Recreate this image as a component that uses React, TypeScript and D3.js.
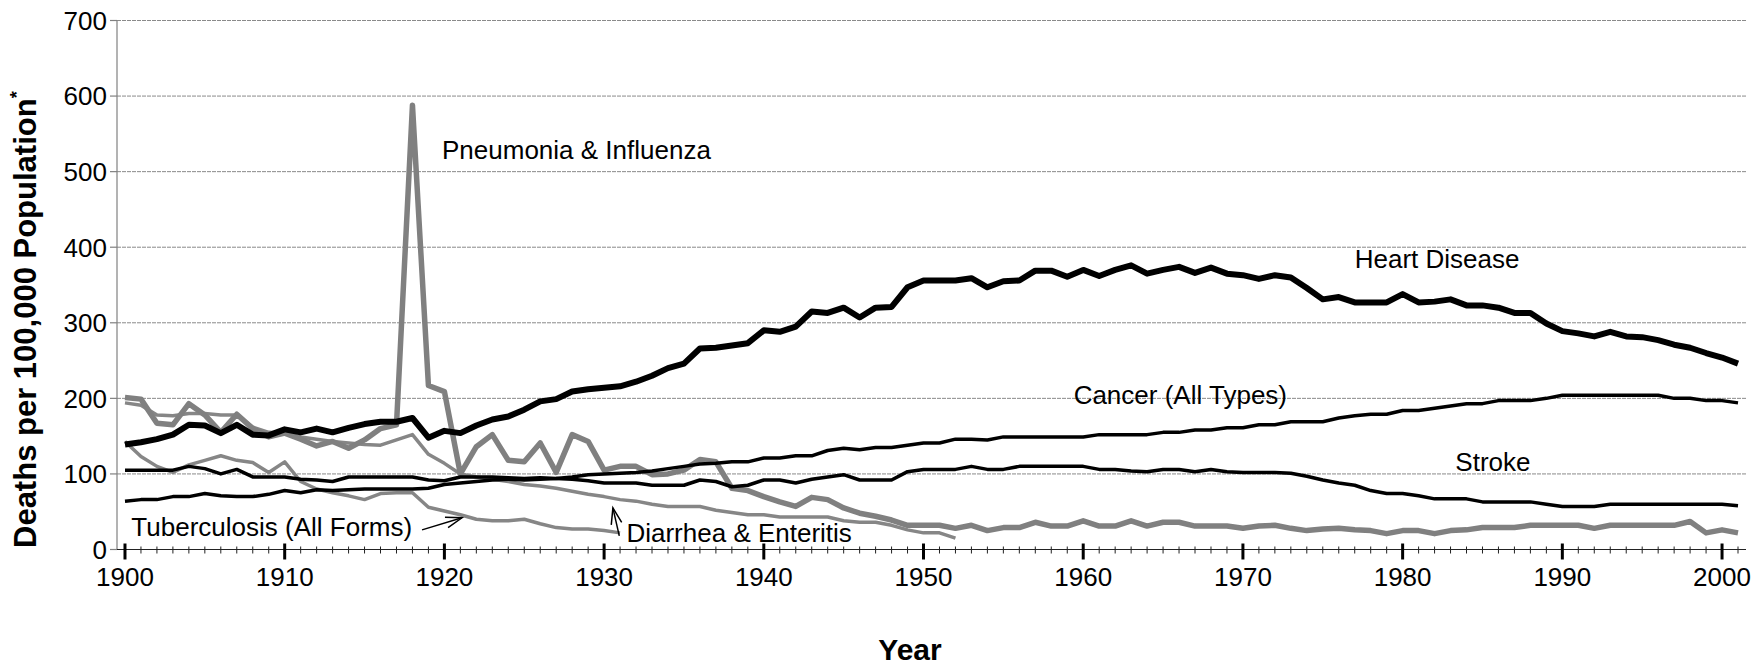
import * as d3 from 'd3';
import { useEffect, useRef } from 'react';

const width = 1762;
const height = 669;

const startYear = 1900;
const yearTicks = [1900, 1910, 1920, 1930, 1940, 1950, 1960, 1970, 1980, 1990, 2000];
const valueTicks = [0, 100, 200, 300, 400, 500, 600, 700];

// deaths per 100,000, one value per year starting 1900
const heartDisease = [
  139, 142, 146, 152, 165, 164, 154, 165, 152, 151,
  159, 155, 160, 155, 161, 166, 169, 169, 174, 148,
  157, 154, 164, 172, 176, 185, 196, 199, 209, 212,
  214, 216, 222, 230, 240, 246, 266, 267, 270, 273,
  290, 288, 295, 315, 313, 320, 307, 320, 321, 347,
  356, 356, 356, 359, 347, 355, 356, 369, 369, 361,
  370, 362, 370, 376, 365, 370, 374, 366, 373, 365,
  363, 358, 363, 360, 346, 331, 334, 327, 327, 327,
  338, 327, 328, 331, 323, 323, 320, 313, 313, 299,
  289, 286, 282, 288, 282, 281, 277, 271, 267, 260,
  254, 246,
];

const cancer = [
  64, 66, 66, 70, 70, 74, 71, 70, 70, 73,
  78, 75, 79, 78, 79, 80, 80, 80, 80, 81,
  86, 88, 90, 92, 93, 92, 93, 94, 96, 99,
  100, 101, 102, 104, 107, 110, 113, 114, 116, 116,
  121, 121, 124, 124, 131, 134, 132, 135, 135, 138,
  141, 141, 146, 146, 145, 149, 149, 149, 149, 149,
  149, 152, 152, 152, 152, 155, 155, 158, 158, 161,
  161, 165, 165, 169, 169, 169, 174, 177, 179, 179,
  184, 184, 187, 190, 193, 193, 197, 197, 197, 200,
  204, 204, 204, 204, 204, 204, 204, 200, 200, 197,
  197, 194,
];

const stroke = [
  105, 105, 105, 105, 110, 107, 100, 106, 96, 96,
  96, 93, 92, 90, 96, 96, 96, 96, 96, 92,
  91, 96, 96, 96, 95, 94, 95, 94, 93, 91,
  88, 88, 88, 85, 85, 85, 92, 90, 83, 85,
  92, 92, 88, 93, 96, 99, 92, 92, 92, 103,
  106, 106, 106, 110, 106, 106, 110, 110, 110, 110,
  110, 106, 106, 104, 103, 106, 106, 103, 106, 103,
  102, 102, 102, 101, 97, 92, 88, 85, 78, 74,
  74, 71, 67, 67, 67, 63, 63, 63, 63, 60,
  57, 57, 57, 60, 60, 60, 60, 60, 60, 60,
  60, 58,
];

const pneumoniaInfluenza = [
  201, 199, 167, 165, 193, 178, 155, 179, 160, 149,
  154, 146, 137, 143, 134, 145, 160, 165, 588, 217,
  209, 100, 136, 152, 118, 116, 141, 102, 152, 143,
  105, 110, 110, 99, 100, 105, 119, 116, 81, 78,
  70, 63, 57, 69, 66, 55, 48, 44, 39, 32,
  32, 32, 28, 32, 25, 29, 29, 36, 31, 31,
  38, 31, 31, 38, 31, 36, 36, 31, 31, 31,
  28, 31, 32, 28, 25, 27, 28, 26, 25, 21,
  25, 25, 21, 25, 26, 29, 29, 29, 32, 32,
  32, 32, 28, 32, 32, 32, 32, 32, 37, 22,
  26, 22,
];

const tuberculosis = [
  194, 191, 178, 177, 180, 180, 178, 178, 162, 155,
  154, 149, 146, 143, 141, 139, 138, 145, 152, 126,
  114, 100, 96, 93, 90, 86, 84, 81, 77, 73,
  70, 66, 64, 60, 57, 57, 57, 52, 49, 46,
  46, 43, 43, 43, 43, 38, 36, 36, 32, 26,
  22, 22, 15,
];

const diarrhea = [
  143, 123, 110, 102, 112, 118, 124, 118, 115, 102,
  116, 90, 80, 75, 71, 66, 74, 75, 75, 56,
  51, 46, 40, 38, 38, 40, 34, 29, 27, 27,
  25, 22,
];

// drawn in this order, gray first so the black lines sit on top
const series = [
  { name: 'Diarrhea & Enteritis', values: diarrhea, color: '#868686', width: 3.5 },
  { name: 'Tuberculosis (All Forms)', values: tuberculosis, color: '#868686', width: 3.5 },
  { name: 'Pneumonia & Influenza', values: pneumoniaInfluenza, color: '#808080', width: 5.5 },
  { name: 'Stroke', values: stroke, color: '#000', width: 3.5 },
  { name: 'Cancer (All Types)', values: cancer, color: '#000', width: 3.5 },
  { name: 'Heart Disease', values: heartDisease, color: '#000', width: 6 },
];

const labelText = ['Pneumonia & Influenza', 'Heart Disease', 'Cancer (All Types)', 'Stroke', 'Tuberculosis (All Forms)', 'Diarrhea & Enteritis'];
const labelYear = [1919.85, 1977.0, 1959.4, 1983.3, 1900.4, 1931.4];
const labelValue = [517, 372, 192, 104, 18, 10];

// arrows: [tail year, tail value, tip year, tip value]
const arrows = [
  [1918.6, 26, 1921.1, 42],
  [1930.95, 18, 1930.55, 55],
];

const font = "'Liberation Sans', Arial, sans-serif";

const App = () => {
  const svgRef = useRef(null);

  useEffect(() => {
    const svg = d3.select(svgRef.current);
    svg.selectAll('*').remove();

    const x = d3.scaleLinear().domain([1899.5, 2001.5]).range([117, 1746]);
    const y = d3.scaleLinear().domain([0, 700]).range([549.5, 20.5]);

    // gridlines
    svg
      .append('g')
      .selectAll('line')
      .data(valueTicks.slice(1))
      .enter()
      .append('line')
      .attr('x1', x.range()[0])
      .attr('x2', x.range()[1])
      .attr('y1', (d) => y(d))
      .attr('y2', (d) => y(d))
      .attr('stroke', '#8a8a8a')
      .attr('stroke-width', 1)
      .attr('stroke-dasharray', '4,1');

    // y axis
    const yAxis = svg.append('g');
    yAxis
      .append('line')
      .attr('x1', x.range()[0])
      .attr('x2', x.range()[0])
      .attr('y1', y(700))
      .attr('y2', y(0))
      .attr('stroke', '#808080')
      .attr('stroke-width', 1.2);
    yAxis
      .selectAll('line.tick')
      .data(valueTicks)
      .enter()
      .append('line')
      .attr('class', 'tick')
      .attr('x1', x.range()[0] - 7)
      .attr('x2', x.range()[0])
      .attr('y1', (d) => y(d))
      .attr('y2', (d) => y(d))
      .attr('stroke', '#808080')
      .attr('stroke-width', 1.2);
    yAxis
      .selectAll('text')
      .data(valueTicks)
      .enter()
      .append('text')
      .attr('x', x.range()[0] - 10)
      .attr('y', (d) => y(d))
      .attr('dy', '0.36em')
      .attr('text-anchor', 'end')
      .style('font-family', font)
      .style('font-size', '26px')
      .text((d) => d);

    // lines
    const line = d3
      .line()
      .x((d, i) => x(startYear + i))
      .y((d) => y(d));

    svg
      .append('g')
      .selectAll('path')
      .data(series)
      .enter()
      .append('path')
      .attr('d', (d) => line(d.values))
      .attr('fill', 'none')
      .attr('stroke', (d) => d.color)
      .attr('stroke-width', (d) => d.width)
      .attr('stroke-linejoin', 'round');

    // x axis
    const xAxis = svg.append('g');
    xAxis
      .append('line')
      .attr('x1', x.range()[0])
      .attr('x2', x.range()[1])
      .attr('y1', y(0))
      .attr('y2', y(0))
      .attr('stroke', '#222')
      .attr('stroke-width', 1.2);
    xAxis
      .selectAll('line.minor')
      .data(d3.range(1900, 2002).filter((d) => d % 10 !== 0))
      .enter()
      .append('line')
      .attr('class', 'minor')
      .attr('x1', (d) => x(d))
      .attr('x2', (d) => x(d))
      .attr('y1', y(0) - 3)
      .attr('y2', y(0) + 4)
      .attr('stroke', '#222')
      .attr('stroke-width', 1);
    xAxis
      .selectAll('line.major')
      .data(yearTicks)
      .enter()
      .append('line')
      .attr('class', 'major')
      .attr('x1', (d) => x(d))
      .attr('x2', (d) => x(d))
      .attr('y1', y(0) - 6)
      .attr('y2', y(0) + 10)
      .attr('stroke', '#000')
      .attr('stroke-width', 3);
    xAxis
      .selectAll('text')
      .data(yearTicks)
      .enter()
      .append('text')
      .attr('x', (d) => x(d))
      .attr('y', 586)
      .attr('text-anchor', 'middle')
      .style('font-family', font)
      .style('font-size', '26px')
      .text((d) => d);

    // series labels
    svg
      .append('g')
      .selectAll('text')
      .data(labelText)
      .enter()
      .append('text')
      .attr('x', (d, i) => x(labelYear[i]))
      .attr('y', (d, i) => y(labelValue[i]))
      .style('font-family', font)
      .style('font-size', '26px')
      .text((d) => d);

    // arrows with open heads
    const arrowG = svg.append('g').attr('stroke', '#000').attr('stroke-width', 1.5).attr('fill', 'none');
    arrows.forEach(([ty, tv, hy, hv]) => {
      const x0 = x(ty);
      const y0 = y(tv);
      const x1 = x(hy);
      const y1 = y(hv);
      const a = Math.atan2(y0 - y1, x0 - x1);
      const len = 17;
      const spread = 0.32;
      arrowG.append('line').attr('x1', x0).attr('y1', y0).attr('x2', x1).attr('y2', y1);
      arrowG
        .append('path')
        .attr(
          'd',
          `M${x1 + len * Math.cos(a - spread)},${y1 + len * Math.sin(a - spread)}L${x1},${y1}L${
            x1 + len * Math.cos(a + spread)
          },${y1 + len * Math.sin(a + spread)}`
        );
    });

    // axis titles
    svg
      .append('text')
      .attr('x', 910)
      .attr('y', 660)
      .attr('text-anchor', 'middle')
      .style('font-family', font)
      .style('font-size', '30px')
      .style('font-weight', 'bold')
      .text('Year');

    const yTitle = svg
      .append('text')
      .attr('transform', 'translate(36,548) rotate(-90)')
      .attr('text-anchor', 'start')
      .style('font-family', font)
      .style('font-size', '31px')
      .style('font-weight', 'bold');
    yTitle.append('tspan').text('Deaths per 100,000 Population');
    yTitle
      .append('tspan')
      .attr('dy', '-0.75em')
      .style('font-size', '18px')
      .text('*');
  }, []);

  return (
    <svg
      ref={svgRef}
      width={width}
      height={height}
      style={{ position: 'absolute', left: 0, top: 0, background: '#fff' }}
    ></svg>
  );
};

export default App;
